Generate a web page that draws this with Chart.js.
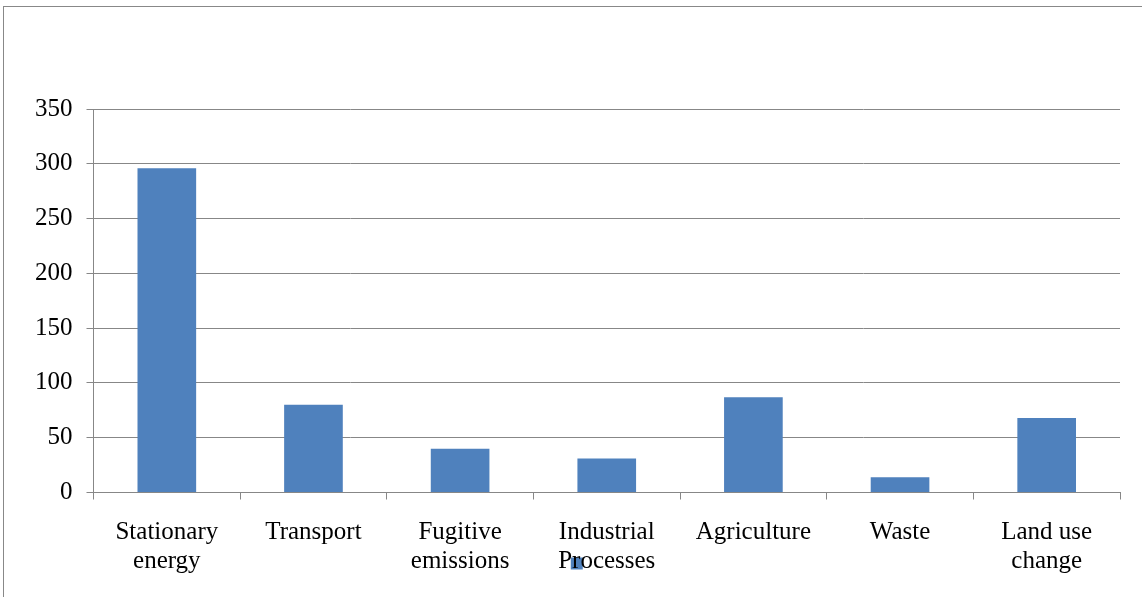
<!DOCTYPE html>
<html>
<head>
<meta charset="utf-8">
<script src="https://cdn.jsdelivr.net/npm/chart.js@4"></script>
<style>
  html, body { margin: 0; padding: 0; background: #fff; overflow: hidden; }
  #wrap { position: relative; width: 1142px; height: 597px; }
  #frame { position: absolute; left: 3px; top: 6px; width: 1150px; height: 600px; border: 1px solid #888; box-sizing: border-box; }
  canvas { position: absolute; left: 0; top: 0; }
</style>
</head>
<body>
<div id="wrap">
  <div id="frame"></div>
  <canvas id="c" width="1142" height="597"></canvas>
</div>
<script>
// categorías (etiquetas de dos líneas como en el original)
const categorias = [
  ["Stationary", "energy"],
  ["Transport"],
  ["Fugitive", "emissions"],
  ["Industrial", "Processes"],
  ["Agriculture"],
  ["Waste"],
  ["Land use", "change"]
];
const valores = [296, 80, 40, 31, 87, 14, 68];
const yTicks = [0, 50, 100, 150, 200, 250, 300, 350];

const gris = "#878787";
const azul = "#4F81BD";

Chart.defaults.font.family = "'Liberation Serif', 'Times New Roman', serif";
Chart.defaults.font.size = 25;
Chart.defaults.color = "#000";

// el eje x se encoge para que la leyenda se solape con las etiquetas;
// después se le devuelve el alto para que no se recorte el texto
const sinRecorte = {
  id: "sinRecorte",
  afterLayout(chart) {
    chart.scales.x.bottom = chart.height;
  },
};

new Chart(document.getElementById("c"), {
  type: "bar",
  data: {
    labels: categorias,
    datasets: [
      {
        label: "",
        data: valores,
        backgroundColor: azul,
        borderWidth: 0,
        barPercentage: 0.4,
        categoryPercentage: 1,
      },
    ],
  },
  options: {
    responsive: false,
    animation: false,
    layout: { padding: { top: 109, left: 21, right: 22, bottom: 11 } },
    plugins: {
      legend: {
        display: true,
        position: "bottom",
        rtl: true,
        labels: { boxWidth: 12, boxHeight: 12, padding: 10, font: { size: 25 } },
      },
      tooltip: { enabled: false },
    },
    scales: {
      x: {
        z: -1,
        grid: { display: true, drawOnChartArea: false, drawTicks: true, tickLength: 7, color: gris, offset: true },
        border: { color: gris, width: 1 },
        ticks: { padding: 19, maxRotation: 0, autoSkip: false, font: { size: 25, lineHeight: 1.15 } },
        afterFit(scale) { scale.height -= 54; },
      },
      y: {
        min: 0,
        max: 350,
        afterBuildTicks(scale) { scale.ticks = yTicks.map((v) => ({ value: v })); },
        grid: { color: gris, tickLength: 7, lineWidth: 1 },
        border: { color: gris, width: 1 },
        ticks: { padding: 14, font: { size: 25 } },
      },
    },
  },
  plugins: [sinRecorte],
});
</script>
</body>
</html>
